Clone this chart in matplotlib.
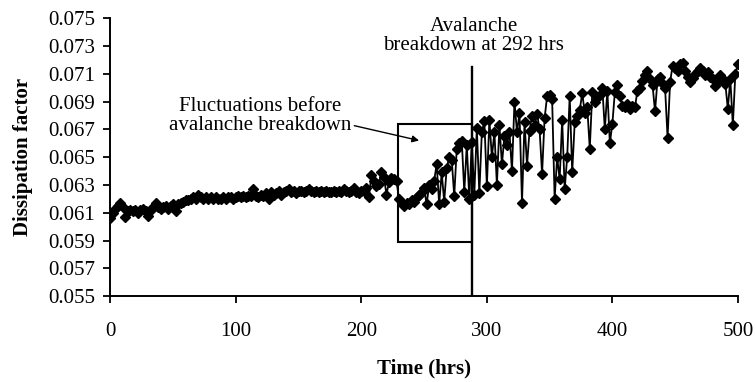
import numpy as np
import matplotlib
matplotlib.use("Agg")
import matplotlib.pyplot as plt
from matplotlib.patches import Rectangle

plt.rcParams['font.family'] = ['Liberation Serif', 'DejaVu Serif']

# Dissipation factor, sampled every 2 hours from 0 to 500 hrs
early = [0.0606, 0.0610, 0.0613, 0.0615, 0.0617, 0.0614, 0.0607, 0.0611, 0.0612, 0.0611,
         0.0612, 0.0610, 0.0612, 0.0613, 0.0611, 0.0608,
         0.0612, 0.0614, 0.0617, 0.0614, 0.0613, 0.0614, 0.0615, 0.0613, 0.0615, 0.0616,
         0.0611, 0.0616, 0.0617, 0.0618, 0.0619,
         0.0619, 0.0620, 0.0621, 0.0620, 0.0623, 0.0621, 0.0620, 0.0621, 0.0620, 0.0621,
         0.0620, 0.0621, 0.0620, 0.0620, 0.0621, 0.0620, 0.0621, 0.0621, 0.0620, 0.0621]
middle = [0.0622, 0.0621, 0.0622, 0.0621, 0.0622, 0.0622, 0.0627, 0.0622, 0.0621, 0.0623,
          0.0622, 0.0624, 0.0620, 0.0625, 0.0623, 0.0624, 0.0626, 0.0623, 0.0625, 0.0626,
          0.0627, 0.0625, 0.0626, 0.0624, 0.0626,
          0.0626, 0.0625, 0.0626, 0.0627, 0.0626, 0.0625, 0.0626, 0.0625, 0.0626, 0.0625,
          0.0626, 0.0625, 0.0625, 0.0626, 0.0625, 0.0626, 0.0625, 0.0627, 0.0626, 0.0625,
          0.0626, 0.0628, 0.0625, 0.0624, 0.0626,
          0.0626, 0.0628, 0.0621, 0.0637, 0.0633, 0.0629, 0.0631, 0.0639, 0.0636, 0.0623,
          0.0632, 0.0635, 0.0634, 0.0633]
fluctuating = [0.0620, 0.0617, 0.0615, 0.0617, 0.0616, 0.0619, 0.0618, 0.0621, 0.0623, 0.0625,
               0.0628, 0.0616, 0.0630, 0.0627, 0.0633, 0.0645, 0.0616, 0.0639, 0.0618, 0.0642,
               0.0650, 0.0648, 0.0622, 0.0656, 0.0660, 0.0662, 0.0625, 0.0659, 0.0620, 0.0661]
after = [0.0623, 0.0671, 0.0624, 0.0668, 0.0676, 0.0629, 0.0677, 0.0650, 0.0668, 0.0630,
         0.0673, 0.0645, 0.0665, 0.0659, 0.0668, 0.0640, 0.0690, 0.0668, 0.0682, 0.0617,
         0.0675, 0.0644, 0.0669, 0.0680, 0.0673, 0.0681, 0.0670, 0.0638, 0.0678, 0.0694,
         0.0695, 0.0692, 0.0620, 0.0650, 0.0634, 0.0677, 0.0627, 0.0650, 0.0694, 0.0639,
         0.0675, 0.0680, 0.0684, 0.0696, 0.0682, 0.0686, 0.0656, 0.0697, 0.0690, 0.0693,
         0.0695, 0.0700, 0.0670, 0.0698, 0.0660, 0.0674, 0.0697, 0.0702, 0.0694, 0.0687,
         0.0686, 0.0688, 0.0685, 0.0687, 0.0686, 0.0698, 0.0700, 0.0705, 0.0709, 0.0712,
         0.0706, 0.0702, 0.0683, 0.0706, 0.0708, 0.0703, 0.0700, 0.0664, 0.0704, 0.0716,
         0.0714, 0.0712, 0.0717, 0.0718, 0.0712, 0.0708, 0.0704, 0.0707, 0.0710, 0.0712,
         0.0714, 0.0712, 0.0709, 0.0711, 0.0708, 0.0706, 0.0701, 0.0705, 0.0709, 0.0706,
         0.0703, 0.0685, 0.0706, 0.0673, 0.0710, 0.0717]

dissipation = early + middle + fluctuating + after
hours = np.arange(0, 2 * len(dissipation), 2)

breakdown_hr = 288
box_x = [229, 288]
box_y = [0.0589, 0.06738]

x_ticks = [0, 100, 200, 300, 400, 500]
y_ticks = [0.055, 0.057, 0.059, 0.061, 0.063, 0.065, 0.067, 0.069, 0.071, 0.073, 0.075]

fs = 15
fig = plt.figure(figsize=(7.56, 3.82), dpi=100)
ax = fig.add_axes([0.146, 0.225, 0.830, 0.727])

ax.plot(hours, dissipation, color='black', lw=1.3, marker='D', ms=5.0,
        markerfacecolor='black', markeredgecolor='black', zorder=3)

ax.set_xlim(0, 500)
ax.set_ylim(0.055, 0.075)
ax.set_xticks(x_ticks)
ax.set_yticks(y_ticks)
ax.set_yticklabels([f"{v:.3f}" for v in y_ticks])
ax.tick_params(direction='out', length=5, width=1.3, labelsize=fs, colors='black')
ax.tick_params(axis='x', pad=14)
ax.tick_params(axis='y', pad=6)
for s in ['top', 'right']:
    ax.spines[s].set_visible(False)
for s in ['left', 'bottom']:
    ax.spines[s].set_linewidth(1.4)

ax.set_xlabel('Time (hrs)', fontsize=fs, fontweight='bold', labelpad=12)
ax.set_ylabel('Dissipation factor', fontsize=fs, fontweight='bold', labelpad=11)

# Breakdown line and box
ax.plot([breakdown_hr, breakdown_hr], [0.055, 0.07151], color='black', lw=1.7, zorder=4)
ax.add_patch(Rectangle((box_x[0], box_y[0]), box_x[1] - box_x[0], box_y[1] - box_y[0],
                       fill=False, edgecolor='black', lw=1.5, zorder=4))

ax.text(289.5, 0.0737, 'Avalanche\nbreakdown at 292 hrs', ha='center', va='center',
        fontsize=fs, linespacing=1.0, clip_on=False)
ax.annotate('Fluctuations before\navalanche breakdown', xy=(246, 0.0662), xytext=(119.5, 0.0680),
            ha='center', va='center', fontsize=fs, linespacing=1.0,
            arrowprops=dict(arrowstyle='-|>', color='black', lw=1.0, mutation_scale=10,
                            shrinkA=0, shrinkB=0, relpos=(1.0, 0.25)))

fig.savefig('out.png', dpi=100)
